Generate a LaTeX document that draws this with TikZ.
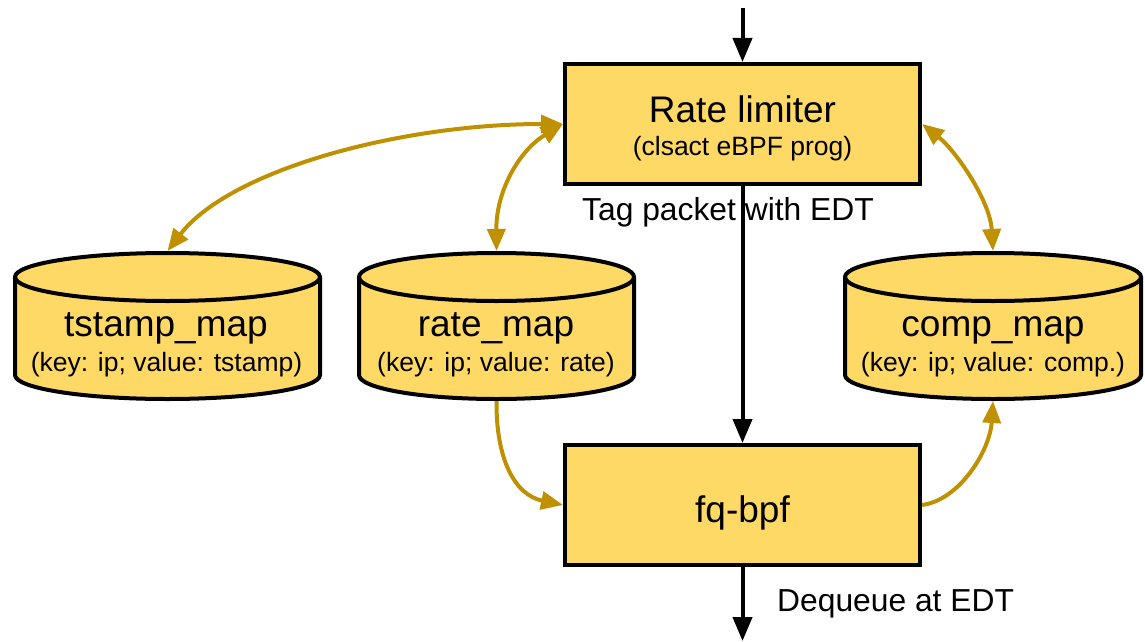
\documentclass[tikz,border=0pt]{standalone}
\usepackage{fontspec}
\setmainfont{Liberation Sans}
\usetikzlibrary{arrows.meta}
\definecolor{boxfill}{HTML}{FFD966}
\definecolor{gold}{HTML}{BF9000}
\newcommand\mycyl[3]{%
  \path[cyl] (#1-#2,277) -- (#1-#2,375) arc[start angle=180,end angle=360,x radius=#2pt,y radius=24pt] -- (#1+#2,277) arc[start angle=0,end angle=180,x radius=#2pt,y radius=24pt] -- cycle;
  \draw[line width=4pt] (#1-#2,277) arc[start angle=180,end angle=360,x radius=#2pt,y radius=24pt];
  \coordinate (#3N) at (#1,251);
  \coordinate (#3S) at (#1,401);
}
\begin{document}
\begin{tikzpicture}[x=1pt,y=-1pt,
  box/.style={draw=black, line width=4pt, fill=boxfill, minimum width=355pt, minimum height=120pt, inner sep=0pt},
  cyl/.style={draw=black, line width=4pt, fill=boxfill},
  big/.style={font=\fontsize{37}{40}\selectfont, inner sep=0pt, anchor=base},
  small/.style={font=\fontsize{26.5}{30}\selectfont, inner sep=0pt, anchor=base},
  lbl/.style={font=\fontsize{31.8}{34}\selectfont, inner sep=0pt, anchor=base},
  flow/.style={line width=4pt, -{Triangle[length=24pt,width=19pt]}},
  link/.style={draw=gold, line width=4pt},
  both/.style={link, {Triangle[length=22pt,width=18pt]}-{Triangle[length=22pt,width=18pt]}},
  one/.style={link, -{Triangle[length=22pt,width=18pt]}},
]
\useasboundingbox (0,0) rectangle (1145,642);

% boxes
\node[box] (rl) at (742.5,124) {};
\node[big] (rlt) at (742.5,122) {Rate limiter};
\node[small] (rls) at (742.5,155) {(clsact eBPF prog)};
\node[box] (fq) at (742.5,505) {};
\node[big] (fqt) at (742.5,522) {fq-bpf};

% cylinders
\mycyl{167.5}{152.5}{ts}
\mycyl{496.5}{137.5}{rm}
\mycyl{993}{148}{cm}
\node[big] (tst) at (166,336) {tstamp\_map};
\node[small] (tss) at (166.5,371) {(key: ip; value: tstamp)};
\node[big] (rmt) at (496,336) {rate\_map};
\node[small] (rms) at (496,371) {(key: ip; value: rate)};
\node[big] (cmt) at (993,336) {comp\_map};
\node[small] (cms) at (993,371) {(key: ip; value: comp.)};

% main flow
\coordinate (in) at (742.5,8);
\coordinate (out) at (742.5,641);
\draw[flow] (in) -- (rl.north);
\draw[flow] (rl.south) -- (fq.north);
\draw[flow] (fq.south) -- (out);
\node[lbl] (tag) at (728,220) {Tag packet with EDT};
\node[lbl, anchor=base west] (deq) at (777,611) {Dequeue at EDT};

% map links
\draw[both] (tsN) .. controls (230,170) and (400,124) .. (rl.west);
\draw[both] (rmN) .. controls (496,190) and (520,150) .. (rl.west);
\draw[both] (rl.east) .. controls (955,150) and (990,200) .. (cmN);
\draw[one] (rmS) .. controls (496,460) and (515,495) .. (fq.west);
\draw[one] (fq.east) .. controls (960,500) and (990,450) .. (cmS);
\end{tikzpicture}
\end{document}
